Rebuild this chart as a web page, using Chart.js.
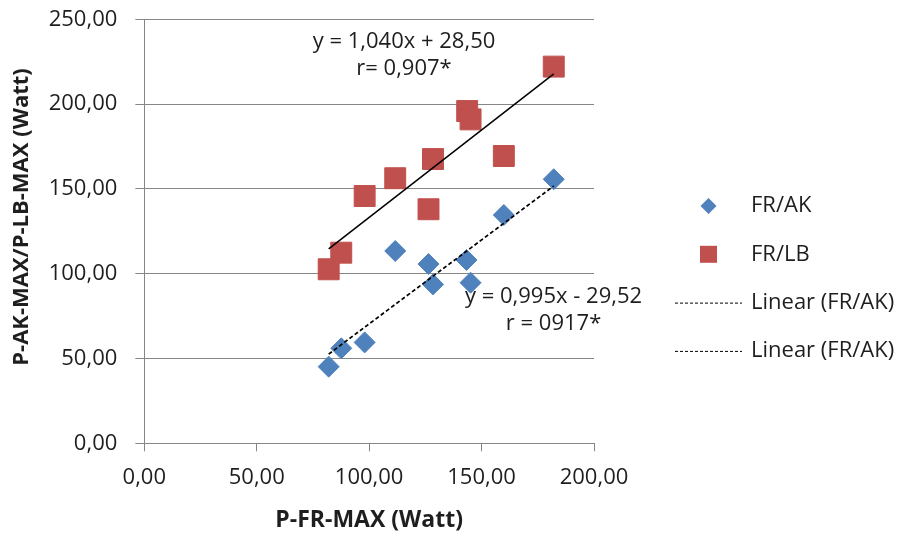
<!DOCTYPE html>
<html>
<head>
<meta charset="utf-8">
<script src="https://cdn.jsdelivr.net/npm/chart.js@4/dist/chart.umd.min.js"></script>
<style>
  html, body { margin: 0; padding: 0; background: #ffffff; }
  #wrap { width: 905px; height: 534px; position: relative; }
</style>
</head>
<body>
<div id="wrap"><canvas id="c" width="905" height="534"></canvas></div>
<script>
// ---- data ----
const frakX = [82.0, 87.6, 98.0, 111.6, 126.4, 128.4, 143.3, 145.1, 159.9, 182.1];
const frakY = [45.2, 56.0, 59.5, 113.4, 105.7, 93.7, 108.1, 94.7, 134.6, 155.7];
const frlbX = [82.0, 87.6, 98.0, 111.6, 126.4, 128.4, 143.6, 145.1, 159.9, 182.1];
const frlbY = [102.6, 112.4, 145.8, 156.3, 138.0, 167.6, 195.9, 191.0, 169.4, 222.1];
// trend line end points (as drawn in the reference)
const trendAkX = [82.0, 182.1];
const trendAkY = [52.6, 151.7];
const trendLbX = [82.0, 182.1];
const trendLbY = [114.6, 217.8];
const seriesLabels = ['FR/AK', 'FR/LB', 'Linear (FR/AK)', 'Linear (FR/AK)'];
const xTicks = [0, 50, 100, 150, 200];
const yTicks = [0, 50, 100, 150, 200, 250];
const eqLbText = ['y = 1,040x + 28,50', 'r= 0,907*'];
const eqAkText = ['y = 0,995x - 29,52', 'r = 0917*'];
const xTitle = 'P-FR-MAX (Watt)';
const yTitle = 'P-AK-MAX/P-LB-MAX (Watt)';

const pts = (xs, ys) => xs.map((x, i) => ({x: x, y: ys[i]}));
const fmt = v => Number(v).toFixed(2).replace('.', ',');

const FONT = "'Open Sans', 'Noto Sans', sans-serif";
const TXT = '#1e1e1e';
const GRID = '#868686';
const BLUE = '#4F81BD';
const RED = '#C0504D';

// equation labels: anchors in data units
const eqLabels = [
  {lines: eqLbText, x: 115.5, y: 236.5},
  {lines: eqAkText, x: 182.0, y: 86.5}
];

const eqPlugin = {
  id: 'eqLabels',
  afterDatasetsDraw(chart) {
    const ctx = chart.ctx, xs = chart.scales.x, ys = chart.scales.y;
    ctx.save();
    ctx.font = '22px ' + FONT;
    ctx.fillStyle = TXT;
    ctx.textAlign = 'center';
    ctx.textBaseline = 'middle';
    eqLabels.forEach(l => {
      const px = xs.getPixelForValue(l.x), py = ys.getPixelForValue(l.y);
      l.lines.forEach((t, i) => ctx.fillText(t, px, py + i * 27));
    });
    ctx.restore();
  }
};

const legendPlugin = {
  id: 'sideLegend',
  afterDraw(chart) {
    const ctx = chart.ctx, ca = chart.chartArea;
    const boxL = ca.right + 81, boxW = 67, textX = ca.right + 157;
    const y0 = 206, step = 48.3;
    ctx.save();
    ctx.font = '22px ' + FONT;
    ctx.textAlign = 'left';
    ctx.textBaseline = 'middle';
    chart.data.datasets.forEach((ds, i) => {
      const cy = y0 + i * step, cx = boxL + boxW / 2;
      if (ds.showLine) {
        ctx.strokeStyle = '#000';
        ctx.lineWidth = 1;
        ctx.setLineDash([3, 2]);
        ctx.beginPath();
        ctx.moveTo(boxL, cy + 0.5);
        ctx.lineTo(boxL + boxW, cy + 0.5);
        ctx.stroke();
        ctx.setLineDash([]);
      } else {
        ctx.fillStyle = ds.backgroundColor;
        ctx.beginPath();
        if (ds.pointStyle === 'rectRot') {
          ctx.moveTo(cx - 8, cy); ctx.lineTo(cx, cy - 8);
          ctx.lineTo(cx + 8, cy); ctx.lineTo(cx, cy + 8);
        } else {
          ctx.rect(cx - 8.5, cy - 8.5, 17, 17);
        }
        ctx.closePath();
        ctx.fill();
      }
      ctx.fillStyle = TXT;
      ctx.fillText(ds.label, textX, cy);
    });
    ctx.restore();
  }
};

new Chart(document.getElementById('c'), {
  type: 'scatter',
  data: {
    datasets: [
      {label: seriesLabels[0], data: pts(frakX, frakY), pointStyle: 'rectRot', pointRadius: 10.5, pointHoverRadius: 10.5,
       backgroundColor: BLUE, borderColor: BLUE, borderWidth: 1, order: 1},
      {label: seriesLabels[1], data: pts(frlbX, frlbY), pointStyle: 'rect', pointRadius: 14.8, pointHoverRadius: 14.8,
       backgroundColor: RED, borderColor: RED, borderWidth: 1, order: 1},
      {label: seriesLabels[2], data: pts(trendAkX, trendAkY), showLine: true, pointRadius: 0,
       borderColor: '#000', borderWidth: 1.7, borderDash: [4, 2.5], backgroundColor: '#000', order: 0},
      {label: seriesLabels[3], data: pts(trendLbX, trendLbY), showLine: true, pointRadius: 0,
       borderColor: '#000', borderWidth: 1.5, backgroundColor: '#000', order: 0}
    ]
  },
  options: {
    responsive: false,
    animation: false,
    events: [],
    layout: {padding: {left: 0, right: 311, top: 0, bottom: 0}},
    plugins: {legend: {display: false}, tooltip: {enabled: false}},
    scales: {
      x: {
        type: 'linear', min: 0, max: 200,
        afterBuildTicks: s => { s.ticks = xTicks.map(v => ({value: v})); },
        afterFit: s => { s.height = 90.7; s.paddingLeft = 0; s.paddingRight = 0; },
        grid: {drawOnChartArea: false, drawTicks: true, tickLength: 8, color: GRID, lineWidth: 1},
        border: {display: true, color: GRID, width: 1},
        ticks: {callback: v => fmt(v), font: {family: FONT, size: 22}, color: TXT, padding: 13, maxRotation: 0},
        title: {display: true, text: xTitle, font: {family: FONT, size: 23, weight: 'bold'}, color: TXT, padding: {top: 0, bottom: 0}}
      },
      y: {
        type: 'linear', min: 0, max: 250,
        afterBuildTicks: s => { s.ticks = yTicks.map(v => ({value: v})); },
        afterFit: s => { s.width = 144.3; s.paddingTop = 19.3; s.paddingBottom = 0; },
        grid: {drawOnChartArea: true, drawTicks: true, tickLength: 9, color: GRID, lineWidth: 1},
        border: {display: true, color: GRID, width: 1},
        ticks: {callback: v => fmt(v), font: {family: FONT, size: 22}, color: TXT, padding: 18},
        title: {display: true, text: '     ' + yTitle, font: {family: FONT, size: 22, weight: 'bold'}, color: TXT, padding: {top: 9, bottom: 0}}
      }
    }
  },
  plugins: [eqPlugin, legendPlugin]
});
</script>
</body>
</html>
